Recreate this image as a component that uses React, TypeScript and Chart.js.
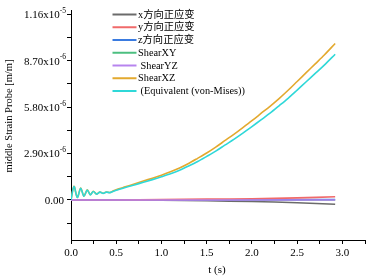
import React, { useEffect, useRef } from "react";
import { Chart, registerables } from "chart.js";

Chart.register(...registerables);

const SCALE = 1e-6;

// Time samples (s)
const tMain = [0, 0.033, 0.07, 0.107, 0.143, 0.18, 0.213, 0.247, 0.283, 0.32, 0.355, 0.39, 0.43, 0.47, 0.52,
  0.6, 0.7, 0.8, 0.9, 1.0, 1.1, 1.2, 1.3, 1.4, 1.5, 1.6, 1.7, 1.8, 1.9, 2.0, 2.1, 2.2, 2.3, 2.4, 2.5, 2.6, 2.7, 2.8, 2.92];
const tSmall = [0, 0.5, 1.0, 1.5, 2.0, 2.5, 2.92];

// Values in units of 1e-6 m/m
const shearXZ = [0, 0.85, 0.16, 0.74, 0.24, 0.63, 0.33, 0.54, 0.37, 0.5, 0.42, 0.5, 0.47, 0.57, 0.68,
  0.82, 1.0, 1.18, 1.36, 1.55, 1.76, 2.0, 2.28, 2.6, 2.93, 3.3, 3.7, 4.1, 4.52, 4.95, 5.4, 5.85, 6.33, 6.85, 7.4, 7.95, 8.5, 9.05, 9.77];
const equivalent = [0, 0.84, 0.15, 0.73, 0.23, 0.62, 0.32, 0.53, 0.36, 0.49, 0.41, 0.49, 0.46, 0.55, 0.64,
  0.78, 0.94, 1.1, 1.27, 1.45, 1.64, 1.86, 2.12, 2.4, 2.72, 3.05, 3.42, 3.78, 4.17, 4.58, 5.0, 5.42, 5.88, 6.35, 6.86, 7.38, 7.9, 8.42, 9.1];
const xNormal = [0, 0, -0.02, -0.05, -0.1, -0.17, -0.27];
const yNormal = [0, 0, 0.02, 0.05, 0.08, 0.13, 0.2];
const zNormal = [0, 0, 0, 0.01, 0.01, 0.02, 0.03];
const shearXY = [0, 0, 0, 0, 0, 0, 0];
const shearYZ = [0, 0, 0, 0, 0, 0, 0];

const seriesNames = ["x方向正应变", "y方向正应变", "z方向正应变", "ShearXY", " ShearYZ", "ShearXZ", " (Equivalent (von-Mises))"];
const seriesColors = ["#6b6b6b", "#f06a6a", "#3a7be0", "#4cbf80", "#b784ee", "#e3a92e", "#2fd8d8"];

const yMajorValues = [0, 2.9e-6, 5.8e-6, 8.7e-6, 1.16e-5];
const yMajorMantissa = ["0.00", "2.90x10", "5.80x10", "8.70x10", "1.16x10"];
const yMajorExp = ["", "-6", "-6", "-6", "-5"];
const yTickValues = [-1.45e-6, 0, 1.45e-6, 2.9e-6, 4.35e-6, 5.8e-6, 7.25e-6, 8.7e-6, 1.015e-5, 1.16e-5];
const xTickValues = [0, 0.25, 0.5, 0.75, 1.0, 1.25, 1.5, 1.75, 2.0, 2.25, 2.5, 2.75, 3.0, 3.25];

const yTitle = "middle Strain Probe [m/m]";
const xTitle = "t (s)";

const FONT = "\"Liberation Serif\", \"Noto Sans CJK SC\", serif";

const toPts = (ts: number[], vs: number[]) => ts.map((t, i) => ({ x: t, y: vs[i] * SCALE }));

const customDraw = {
  id: "customDraw",
  afterDraw(chart: any) {
    const ctx = chart.ctx;
    const ys = chart.scales.y;
    const xs = chart.scales.x;
    ctx.save();
    ctx.fillStyle = "#000";
    yMajorValues.forEach((v, i) => {
      const py = ys.getPixelForValue(v);
      const hasExp = !!yMajorExp[i];
      const rightX = hasExp ? 66 : 64;
      ctx.font = `7.5px ${FONT}`;
      const ew = hasExp ? ctx.measureText(yMajorExp[i]).width : 0;
      if (hasExp) {
        ctx.textAlign = "left";
        ctx.textBaseline = "alphabetic";
        ctx.fillText(yMajorExp[i], rightX - ew, py - 1.5);
      }
      ctx.font = `11px ${FONT}`;
      ctx.textAlign = "right";
      ctx.textBaseline = "middle";
      ctx.fillText(yMajorMantissa[i], rightX - ew, py + 1);
    });
    ctx.font = `10.5px ${FONT}`;
    ctx.textAlign = "center";
    ctx.textBaseline = "middle";
    ctx.save();
    ctx.translate(9, 116);
    ctx.rotate(-Math.PI / 2);
    ctx.fillText(yTitle, 0, 0);
    ctx.restore();
    ctx.font = `11px ${FONT}`;
    ctx.fillText(xTitle, (xs.left + xs.right) / 2 - 1, 270);
    ctx.font = `10.3px ${FONT}`;
    ctx.textAlign = "left";
    ctx.textBaseline = "middle";
    seriesNames.forEach((name, i) => {
      const yy = 14.5 + i * 12.75;
      ctx.strokeStyle = seriesColors[i];
      ctx.lineWidth = 2;
      ctx.beginPath();
      ctx.moveTo(112.5, yy);
      ctx.lineTo(136.5, yy);
      ctx.stroke();
      ctx.fillStyle = "#000";
      ctx.fillText(name, 138, yy + 0.5);
    });
    ctx.restore();
  },
};

export default function App() {
  const ref = useRef<HTMLCanvasElement | null>(null);
  useEffect(() => {
    document.body.style.margin = "0";
    const canvas = ref.current;
    if (!canvas) return;
    let chart: any = null;
    let cancelled = false;
    const build = () => {
      if (cancelled) return;
      const seriesData = [
        toPts(tSmall, xNormal),
        toPts(tSmall, yNormal),
        toPts(tSmall, zNormal),
        toPts(tSmall, shearXY),
        toPts(tSmall, shearYZ),
        toPts(tMain, shearXZ),
        toPts(tMain, equivalent),
      ];
      const drawOrder = [4, 2, 3, 6, 1, 5, 0];
      chart = new Chart(canvas, {
        type: "line",
        data: {
          datasets: seriesNames.map((n, i) => ({
            label: n,
            data: seriesData[i],
            borderColor: seriesColors[i],
            backgroundColor: seriesColors[i],
            borderWidth: 1.6,
            pointRadius: 0,
            tension: 0.3,
            fill: false,
            order: drawOrder[i],
          })),
        },
        options: {
          responsive: false,
          animation: false,
          layout: { padding: { top: 5, right: 1, left: 0, bottom: 0 } },
          plugins: { legend: { display: false }, tooltip: { enabled: false } },
          scales: {
            x: {
              type: "linear",
              min: 0,
              max: 3.25,
              afterBuildTicks: (s: any) => {
                s.ticks = xTickValues.map((v) => ({ value: v }));
              },
              afterFit: (s: any) => {
                s.height = 38;
              },
              grid: { drawOnChartArea: false, drawTicks: true, tickLength: 4, color: "#000" },
              border: { display: true, color: "#000", width: 1 },
              ticks: {
                autoSkip: false,
                maxRotation: 0,
                padding: 3,
                color: "#000",
                font: { family: FONT, size: 11 },
                callback: (v: any) => {
                  const n = Number(v);
                  return Math.abs(n * 2 - Math.round(n * 2)) < 1e-9 ? n.toFixed(1) : "";
                },
              },
            },
            y: {
              type: "linear",
              min: -2.5e-6,
              max: 1.185e-5,
              afterBuildTicks: (s: any) => {
                s.ticks = yTickValues.map((v) => ({ value: v }));
              },
              afterFit: (s: any) => {
                s.width = 71;
              },
              grid: { drawOnChartArea: false, drawTicks: true, tickLength: 4, color: "#000" },
              border: { display: true, color: "#000", width: 1 },
              ticks: { autoSkip: false, callback: () => "" },
            },
          },
        },
        plugins: [customDraw],
      } as any);
    };
    const fontsApi: any = (document as any).fonts;
    if (fontsApi && fontsApi.load) {
      Promise.all([
        fontsApi.load('11px "Liberation Serif"'),
        fontsApi.load('11px "Noto Sans CJK SC"', "方向正应变"),
      ]).then(build, build);
    } else {
      build();
    }
    return () => {
      cancelled = true;
      if (chart) chart.destroy();
    };
  }, []);
  return (
    <div style={{ width: 368, height: 278, background: "#fff" }}>
      <canvas ref={ref} width={368} height={278} style={{ display: "block" }} />
    </div>
  );
}
